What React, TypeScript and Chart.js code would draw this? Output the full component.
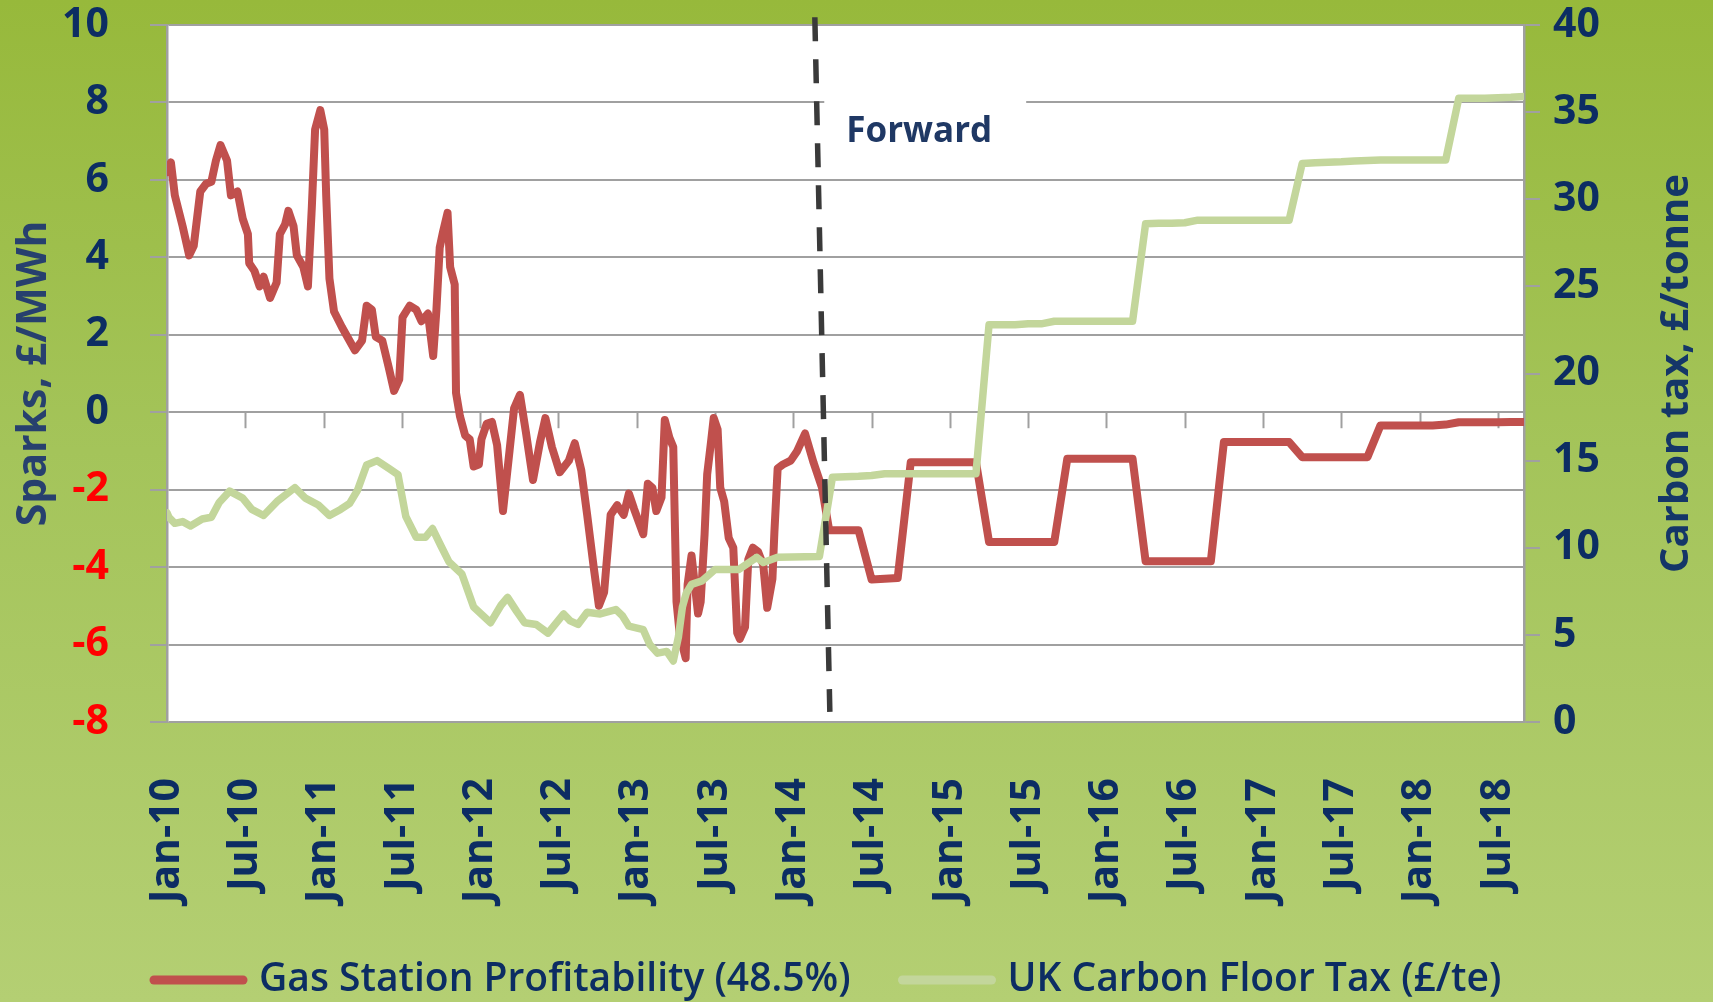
import React, { useEffect, useRef } from 'react';
import { Chart, registerables } from 'chart.js';

Chart.register(...registerables);

// ---- Data (x = months since Jan-2010) ----
const xTickLabels = [
  'Jan-10', 'Jul-10', 'Jan-11', 'Jul-11', 'Jan-12', 'Jul-12', 'Jan-13', 'Jul-13', 'Jan-14',
  'Jul-14', 'Jan-15', 'Jul-15', 'Jan-16', 'Jul-16', 'Jan-17', 'Jul-17', 'Jan-18', 'Jul-18',
];

const sparkHistMonths = [
  0.0, 0.3, 0.6, 1.2, 1.7, 2.05, 2.55, 3.0, 3.4, 3.75, 4.1, 4.6, 4.9, 5.4, 5.8, 6.2, 6.3, 6.7,
  7.1, 7.4, 7.9, 8.4, 8.65, 9.05, 9.3, 9.7, 9.95, 10.45, 10.8, 11.1, 11.35, 11.75, 12.05, 12.2,
  12.45, 12.8, 13.4, 14.4, 14.95, 15.3, 15.7, 16.0, 16.5, 17.0, 17.4, 17.8, 18.05, 18.6, 19.1,
  19.5, 20.0, 20.4, 20.65, 20.9, 21.15, 21.5, 21.7, 22.05, 22.15, 22.45, 22.85, 23.2, 23.5, 23.9,
  24.1, 24.5, 24.9, 25.3, 25.75, 26.25, 26.6, 27.05, 27.5, 28.05, 28.6, 29.0, 29.5, 30.1, 30.8,
  31.25, 31.75, 32.2, 32.7, 33.1, 33.5, 34.0, 34.5, 35.0, 35.4, 35.8, 36.5, 36.85, 37.2, 37.5,
  37.9, 38.15, 38.5, 38.8, 39.05, 39.3, 39.75, 39.9, 40.2, 40.4, 40.7, 40.9, 41.2, 41.4, 41.7,
  41.9, 42.2, 42.4, 42.7, 43.05, 43.4, 43.7, 43.9, 44.3, 44.55, 44.9, 45.3, 45.7, 46.0, 46.4,
  46.55, 46.8, 47.2, 47.8, 48.3, 48.9, 49.55, 50.2, 50.75,
];
const sparkHistValues = [
  6.2, 6.45, 5.6, 4.8, 4.05, 4.3, 5.7, 5.9, 5.95, 6.5, 6.9, 6.5, 5.6, 5.7, 5.0, 4.6, 3.85, 3.65,
  3.25, 3.5, 2.95, 3.35, 4.6, 4.85, 5.2, 4.8, 4.05, 3.75, 3.25, 5.3, 7.3, 7.8, 7.3, 5.6,
  3.45, 2.6, 2.2, 1.6, 1.85, 2.75, 2.65, 1.95, 1.85, 1.15, 0.55, 0.85, 2.45, 2.75, 2.65,
  2.35, 2.55, 1.45, 2.65, 4.25, 4.65, 5.15, 3.75, 3.3, 0.5, -0.1, -0.6, -0.7, -1.4, -1.35,
  -0.7, -0.3, -0.25, -0.85, -2.55, -1.0, 0.1, 0.45, -0.5, -1.75, -0.75, -0.15, -0.9, -1.55, -1.25,
  -0.8, -1.5, -2.65, -4.0, -5.0, -4.65, -2.65, -2.4, -2.65, -2.1, -2.5, -3.15, -1.85, -1.95, -2.55,
  -2.2, -0.2, -0.65, -0.9, -4.9, -5.75, -6.35, -4.45, -3.7, -4.3, -5.2, -4.9, -3.15, -1.6, -0.75,
  -0.15, -0.45, -1.95, -2.3, -3.25, -3.5, -5.7, -5.85, -5.55, -3.8, -3.5, -3.6, -3.95, -5.05, -4.3,
  -3.1, -1.45, -1.35, -1.25, -1.0, -0.55, -1.3, -1.95, -3.05,
];

const taxHistMonths = [
  0.0, 0.15, 0.6, 1.2, 1.8, 2.7, 3.4, 4.0, 4.8, 5.8, 6.5, 7.4, 8.5, 9.8, 10.6, 11.6, 12.45, 13.3,
  14.0, 14.6, 15.3, 16.1, 17.0, 17.7, 18.3, 19.1, 19.8, 20.35, 21.0, 21.6, 22.6, 23.5, 24.8, 25.6,
  26.1, 26.8, 27.4, 28.3, 29.2, 30.4, 30.9, 31.5, 32.2, 33.2, 34.4, 34.9, 35.4, 36.5, 37.0, 37.6,
  38.3, 38.8, 39.2, 39.5, 39.8, 40.2, 41.0, 42.0, 43.8, 44.4, 45.2, 45.7, 46.8, 50.0,
];
const taxHistValues = [
  12.0, 11.75, 11.4, 11.5, 11.25, 11.65, 11.75, 12.6, 13.25, 12.85, 12.2, 11.85, 12.7, 13.45, 12.85, 12.45, 11.85, 12.2,
  12.55, 13.3, 14.75, 15.0, 14.55, 14.2, 11.8, 10.6, 10.6, 11.1, 10.1, 9.2, 8.5, 6.6, 5.7, 6.7,
  7.15, 6.35, 5.7, 5.6, 5.1, 6.2, 5.8, 5.6, 6.3, 6.2, 6.45, 6.1, 5.5, 5.3, 4.45, 3.95,
  4.05, 3.5, 4.9, 6.6, 7.4, 7.9, 8.1, 8.75, 8.75, 9.05, 9.45, 9.15, 9.45, 9.5,
];

const forwardMonths = [
  51, 52, 53, 54, 55, 56, 57, 58, 59, 60, 61, 62, 63, 64, 65, 66, 67, 68,
  69, 70, 71, 72, 73, 74, 75, 76, 77, 78, 79, 80, 81, 82, 83, 84, 85, 86,
  87, 88, 89, 90, 91, 92, 93, 94, 95, 96, 97, 98, 99, 100, 101, 102, 103, 104,
];
const sparkForward = [
  -3.05, -3.05, -3.05, -4.32, -4.3, -4.28, -1.29, -1.29, -1.29, -1.29, -1.29, -1.29, -3.35, -3.35, -3.35, -3.35, -3.35, -3.35,
  -1.2, -1.2, -1.2, -1.2, -1.2, -1.2, -3.85, -3.85, -3.85, -3.85, -3.85, -3.85, -0.77, -0.77, -0.77, -0.77, -0.77, -0.77,
  -1.16, -1.16, -1.16, -1.16, -1.16, -1.16, -0.34, -0.34, -0.34, -0.34, -0.34, -0.32, -0.26, -0.26, -0.26, -0.26, -0.25, -0.25,
];
const taxForward = [
  14.05, 14.08, 14.1, 14.15, 14.25, 14.25, 14.25, 14.25, 14.25, 14.25, 14.25, 14.25, 22.8, 22.8, 22.8, 22.85, 22.85, 23.0,
  23.0, 23.0, 23.0, 23.0, 23.0, 23.0, 28.6, 28.62, 28.62, 28.65, 28.8, 28.8, 28.8, 28.8, 28.8, 28.8, 28.8, 28.8,
  32.05, 32.1, 32.12, 32.15, 32.2, 32.22, 32.25, 32.25, 32.25, 32.25, 32.25, 32.25, 35.8, 35.8, 35.8, 35.82, 35.85, 35.9,
];

// "Forward" divider (month, left-axis value) and its label
const forwardMarkerMonths = [49.65, 50.8];
const forwardMarkerValues = [10.2, -7.74];
const forwardNote = { text: 'Forward', month: 57.65, value: 6.98 };

const rightAxisTitle = 'Carbon tax, £/tonne';

// ---- Styles ----
const RED = '#C0504D';
const GREEN = '#C3D69B';
const NAVY = '#0C2D63';
const GRID = '#A0A0A0';
const FONT = '"Open Sans", sans-serif';

const toPoints = (ms: number[], vs: number[]) => ms.map((m, i) => ({ x: m, y: vs[i] }));

const chartAreaBg = {
  id: 'chartAreaBg',
  beforeDraw(chart: any) {
    const { ctx, chartArea: a } = chart;
    ctx.save();
    ctx.fillStyle = '#FFFFFF';
    ctx.fillRect(a.left, a.top, a.right - a.left, a.bottom - a.top);
    ctx.restore();
  },
};

const zeroAxisTicks = {
  id: 'zeroAxisTicks',
  beforeDatasetsDraw(chart: any) {
    const { ctx } = chart;
    const xs = chart.scales.x;
    const ys = chart.scales.y;
    const y0 = ys.getPixelForValue(0);
    ctx.save();
    ctx.strokeStyle = GRID;
    ctx.lineWidth = 2;
    xs.ticks.forEach((t: any) => {
      if (t.value <= xs.min) return;
      const px = Math.round(xs.getPixelForValue(t.value)) + 0.5;
      ctx.beginPath();
      ctx.moveTo(px, y0);
      ctx.lineTo(px, y0 + 16);
      ctx.stroke();
    });
    ctx.restore();
  },
};

const forwardLabel = {
  id: 'forwardLabel',
  beforeDatasetsDraw(chart: any) {
    const { ctx } = chart;
    const cx = chart.scales.x.getPixelForValue(forwardNote.month);
    const by = chart.scales.y.getPixelForValue(forwardNote.value);
    ctx.save();
    ctx.font = `bold 35px ${FONT}`;
    const w = ctx.measureText(forwardNote.text).width;
    ctx.fillStyle = '#FFFFFF';
    ctx.fillRect(cx - w / 2 - 22, by - 54, w + 56, 72);
    ctx.fillStyle = '#1F3864';
    ctx.textAlign = 'center';
    ctx.textBaseline = 'alphabetic';
    ctx.fillText(forwardNote.text, cx, by);
    ctx.restore();
  },
};

// Right axis title, reading bottom-to-top like the left one
const rightTitle = {
  id: 'rightTitle',
  afterDraw(chart: any) {
    const { ctx } = chart;
    const s = chart.scales.y1;
    const cy = (s.top + s.bottom) / 2;
    ctx.save();
    ctx.translate(s.right - 36, cy);
    ctx.rotate(-Math.PI / 2);
    ctx.font = `bold 40px ${FONT}`;
    ctx.fillStyle = '#143668';
    ctx.textAlign = 'center';
    ctx.textBaseline = 'middle';
    ctx.fillText(rightAxisTitle, 0, 0);
    ctx.restore();
  },
};

const customLegend = {
  id: 'customLegend',
  afterDraw(chart: any) {
    const { ctx } = chart;
    const items = chart.data.datasets.filter((d: any) => d.label);
    let x = 150;
    const y = 980;
    ctx.save();
    ctx.font = `600 39px ${FONT}`;
    ctx.textBaseline = 'middle';
    ctx.textAlign = 'left';
    items.forEach((d: any) => {
      ctx.strokeStyle = d.borderColor;
      ctx.lineWidth = 9;
      ctx.lineCap = 'round';
      ctx.beginPath();
      ctx.moveTo(x + 4, y);
      ctx.lineTo(x + 93, y);
      ctx.stroke();
      ctx.fillStyle = NAVY;
      ctx.fillText(d.label, x + 109, y);
      x += 109 + ctx.measureText(d.label).width + 48;
    });
    ctx.restore();
  },
};

export default function App() {
  const ref = useRef<HTMLCanvasElement>(null);

  useEffect(() => {
    let chart: Chart | null = null;
    let cancelled = false;

    const build = () => {
      if (cancelled || !ref.current) return;
      const tickFont = { family: FONT, size: 41, weight: 'bold' as const };
      chart = new Chart(ref.current, {
        type: 'line',
        data: {
          datasets: [
            {
              label: 'Gas Station Profitability (48.5%)',
              data: [...toPoints(sparkHistMonths, sparkHistValues), ...toPoints(forwardMonths, sparkForward)],
              borderColor: RED,
              backgroundColor: RED,
              borderWidth: 8,
              pointRadius: 0,
              tension: 0,
              borderJoinStyle: 'round',
              borderCapStyle: 'round',
              yAxisID: 'y',
              order: 3,
            },
            {
              label: 'UK Carbon Floor Tax (£/te)',
              data: [...toPoints(taxHistMonths, taxHistValues), ...toPoints(forwardMonths, taxForward)],
              borderColor: GREEN,
              backgroundColor: GREEN,
              borderWidth: 7.5,
              pointRadius: 0,
              tension: 0,
              borderJoinStyle: 'round',
              borderCapStyle: 'round',
              yAxisID: 'y1',
              order: 2,
            },
            {
              label: '',
              data: toPoints(forwardMarkerMonths, forwardMarkerValues),
              borderColor: '#3A3A3A',
              borderWidth: 5.5,
              borderDash: [24, 18],
              pointRadius: 0,
              yAxisID: 'y',
              clip: false as any,
              order: 1,
            },
          ],
        },
        options: {
          animation: false,
          responsive: false,
          events: [],
          parsing: false as any,
          layout: { padding: { top: 25, left: 0, right: 0, bottom: 0 } },
          plugins: {
            legend: { display: false },
            tooltip: { enabled: false },
          },
          scales: {
            x: {
              type: 'linear',
              min: 0,
              max: 104,
              grid: { display: false, drawTicks: false },
              border: { display: false },
              ticks: {
                stepSize: 6,
                autoSkip: false,
                includeBounds: false,
                minRotation: 90,
                maxRotation: 90,
                padding: 56,
                color: NAVY,
                font: tickFont,
                callback: (v: any) => {
                  const i = Math.round(Number(v) / 6);
                  return Number(v) % 6 === 0 && xTickLabels[i] ? xTickLabels[i] : '';
                },
              },
              afterFit: (s: any) => {
                s.height = 280;
                s.paddingLeft = 0;
                s.paddingRight = 0;
              },
            },
            y: {
              position: 'left',
              min: -8,
              max: 10,
              grid: { color: GRID, lineWidth: 2, tickLength: 17 },
              border: { color: GRID, width: 2.5 },
              ticks: {
                stepSize: 2,
                padding: 41,
                font: tickFont,
                color: (c: any) => (c.tick && c.tick.value < 0 ? '#FF0000' : NAVY),
              },
              title: {
                display: true,
                text: 'Sparks, £/MWh',
                color: '#27406E',
                font: { family: FONT, size: 41, weight: 'bold' },
                padding: { top: 10, bottom: 0 },
              },
              afterFit: (s: any) => {
                s.width = 167;
                s.paddingTop = 0;
                s.paddingBottom = 0;
              },
            },
            y1: {
              position: 'right',
              min: 0,
              max: 40,
              grid: { drawOnChartArea: false, color: GRID, lineWidth: 2, tickLength: 16 },
              border: { color: GRID, width: 2.5 },
              ticks: { stepSize: 5, padding: 13, font: tickFont, color: NAVY },
              title: { display: false },
              afterFit: (s: any) => {
                s.width = 189;
                s.paddingTop = 0;
                s.paddingBottom = 0;
              },
            },
          },
        } as any,
        plugins: [chartAreaBg, zeroAxisTicks, forwardLabel, rightTitle, customLegend],
      });
    };

    const fonts = (document as any).fonts;
    if (fonts && fonts.load) {
      Promise.all([
        fonts.load(`bold 41px "Open Sans"`),
        fonts.load(`600 39px "Open Sans"`),
      ]).then(build, build);
    } else {
      build();
    }

    return () => {
      cancelled = true;
      if (chart) chart.destroy();
    };
  }, []);

  return (
    <div
      style={{
        position: 'fixed',
        left: 0,
        top: 0,
        width: 1713,
        height: 1002,
        background: 'linear-gradient(to bottom, #97B93B 0%, #A4C45A 45%, #B4CF73 100%)',
      }}
    >
      <canvas ref={ref} width={1713} height={1002} style={{ display: 'block', width: 1713, height: 1002 }} />
    </div>
  );
}
